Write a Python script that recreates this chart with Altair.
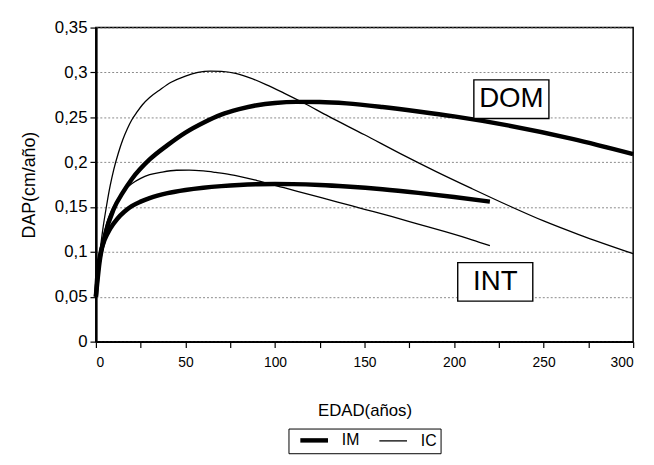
import altair as alt
import pandas as pd

# ---- data ----
edad_ic_dom = [0, 2, 4, 6, 8, 10, 12.5, 15, 17.5, 20, 23, 26, 30, 36, 42, 50, 57, 64, 70, 78, 86, 95, 105, 115,
               130, 150, 170, 190, 210, 230, 250, 270, 300]
dap_ic_dom = [0.05, 0.095, 0.127, 0.152, 0.174, 0.192, 0.21, 0.225, 0.237, 0.247, 0.256, 0.264, 0.272, 0.281,
              0.289, 0.296, 0.3, 0.3015, 0.3013, 0.299, 0.294, 0.2865, 0.277, 0.267, 0.251, 0.2305, 0.2095,
              0.1895, 0.1705, 0.152, 0.1345, 0.119, 0.098]

edad_im_dom = [0, 2, 5, 10, 15, 20, 30, 40, 50, 60, 70, 80, 90, 100, 112, 125, 140, 160, 180, 200, 230, 266, 300]
dap_im_dom = [0.05, 0.088, 0.118, 0.148, 0.166, 0.181, 0.203, 0.219, 0.233, 0.244, 0.253, 0.259, 0.2635, 0.266,
              0.2672, 0.267, 0.2655, 0.2615, 0.2565, 0.251, 0.241, 0.226, 0.209]

edad_ic_int = [0, 2, 4, 6, 8, 10, 13, 16, 20, 25, 30, 37, 45, 52, 60, 67, 75, 90, 105, 120, 135, 150, 165, 180,
               195, 210, 220]
dap_ic_int = [0.05, 0.09, 0.115, 0.132, 0.143, 0.151, 0.161, 0.169, 0.176, 0.182, 0.186, 0.189, 0.191, 0.1912,
              0.1902, 0.1885, 0.1862, 0.1795, 0.1715, 0.1635, 0.1555, 0.1475, 0.1395, 0.131, 0.1225, 0.1135, 0.107]

edad_im_int = [0, 1, 2.5, 5, 8, 12, 16, 20, 25, 30, 40, 50, 60, 70, 80, 90, 100, 110, 125, 140, 160, 180, 200, 220]
dap_im_int = [0.05, 0.078, 0.098, 0.114, 0.126, 0.137, 0.145, 0.151, 0.156, 0.16, 0.1655, 0.169, 0.1715, 0.1733,
              0.1746, 0.1754, 0.1757, 0.1755, 0.1745, 0.1728, 0.1698, 0.1658, 0.1612, 0.156]

tipos = ["IM", "IC"]
etiquetas = ["DOM", "INT"]
etiqueta_edad = [232, 223]
etiqueta_dap = [0.2702, 0.0666]

y_ticks = [0, 0.05, 0.1, 0.15, 0.2, 0.25, 0.3, 0.35]
x_ticks = list(range(0, 301, 25))

# ---- tables ----
rows = []
for tipo, clase, xs, ys in [
    ("IC", "DOM", edad_ic_dom, dap_ic_dom),
    ("IM", "DOM", edad_im_dom, dap_im_dom),
    ("IC", "INT", edad_ic_int, dap_ic_int),
    ("IM", "INT", edad_im_int, dap_im_int),
]:
    for x, y in zip(xs, ys):
        rows.append({"edad": x, "dap": y, "tipo": tipo, "serie": tipo + " " + clase})
df = pd.DataFrame(rows)
lab = pd.DataFrame({"edad": etiqueta_edad, "dap": etiqueta_dap, "texto": etiquetas})

FONT = "Liberation Sans"

x_enc = alt.X(
    "edad:Q",
    scale=alt.Scale(domain=[0, 300], nice=False),
    axis=alt.Axis(
        values=x_ticks,
        labelExpr="datum.value % 50 === 0 ? datum.label : ''",
        title="EDAD(años)",
        tickSize=6,
        labelPadding=8,
        labelFontSize=14,
        titleFontSize=17,
        titlePadding=34,
        domainWidth=2,
        grid=False,
    ),
)
y_enc = alt.Y(
    "dap:Q",
    scale=alt.Scale(domain=[0, 0.35], nice=False),
    axis=alt.Axis(
        values=y_ticks,
        format=".2~f",
        labelExpr="replace(datum.label, '.', ',')",
        title="DAP(cm/año)",
        tickSize=6,
        labelPadding=3,
        labelFontSize=17,
        titleFontSize=18,
        titlePadding=16,
        domainWidth=2.5,
        grid=True,
        gridDash=[2, 2],
        gridColor="#8a8a8a",
        gridWidth=1,
    ),
)

lines = alt.Chart(df).mark_line(color="black", interpolate="monotone").encode(
    x=x_enc,
    y=y_enc,
    strokeWidth=alt.StrokeWidth(
        "tipo:N",
        scale=alt.Scale(domain=tipos, range=[4.5, 1.3]),
        legend=alt.Legend(
            title=None,
            orient="none",
            legendX=195,
            legendY=406,
            direction="horizontal",
            symbolType="M0,0H7",
            symbolSize=64,
            symbolStrokeColor="black",
            labelFont=FONT,
            labelFontSize=16,
            labelOffset=34,
            columnPadding=12,
            padding=4,
            strokeColor="black",
            fillColor="white",
            cornerRadius=0,
        ),
    ),
    detail="serie:N",
    order="edad:Q",
)

boxes = alt.Chart(lab).mark_rect(
    width=76, height=39, fill="white", stroke="black", strokeWidth=1.4
).encode(x="edad:Q", y="dap:Q")

texts = alt.Chart(lab).mark_text(font=FONT, fontSize=28, color="black").encode(
    x="edad:Q", y="dap:Q", text="texto:N"
)

chart = (
    alt.layer(lines, boxes, texts)
    .properties(
        width=544,
        height=318,
        padding={"left": 89, "top": 17, "right": 13, "bottom": 114},
        autosize=alt.AutoSizeParams(type="none"),
    )
    .configure_view(stroke="black", strokeWidth=1.5)
    .configure_axis(
        labelFont=FONT,
        titleFont=FONT,
        labelColor="black",
        titleColor="black",
        domainColor="black",
        tickColor="black",
        tickWidth=1.2,
        titleFontWeight="normal",
    )
)

chart.save("out.html", embed_options={"renderer": "svg", "actions": False})
